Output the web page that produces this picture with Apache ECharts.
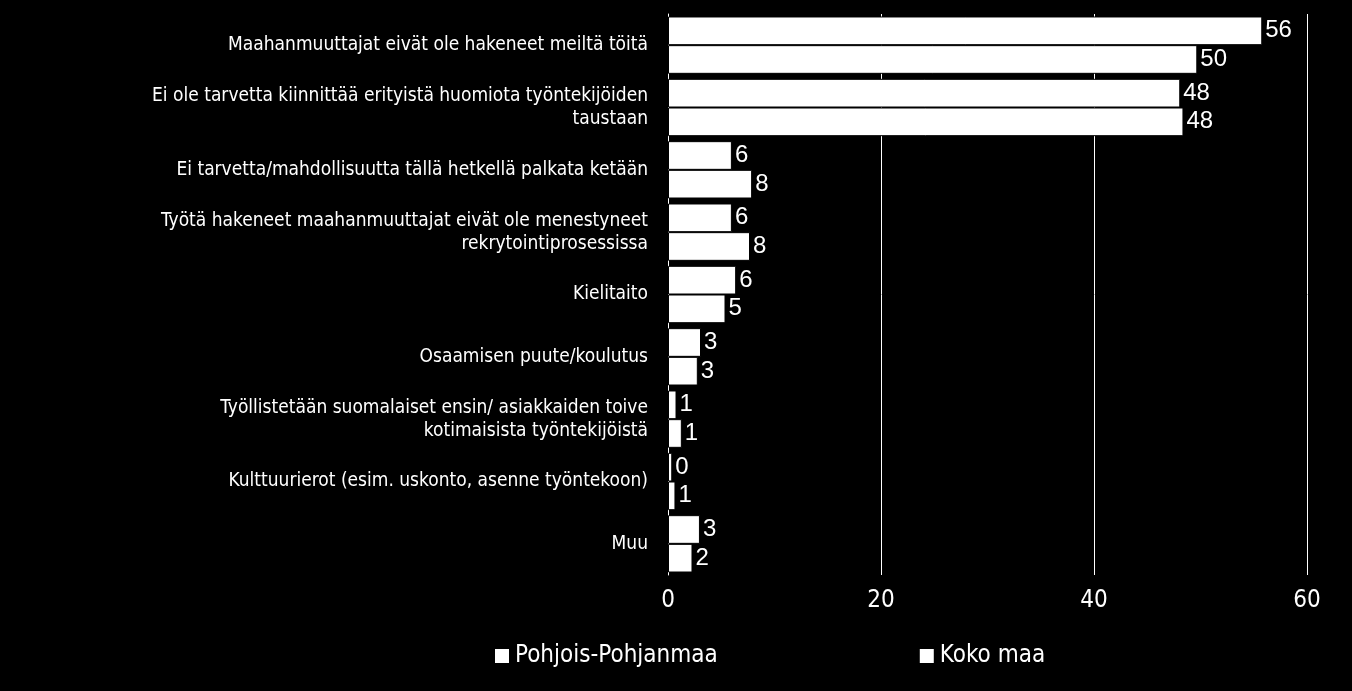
<!DOCTYPE html>
<html>
<head>
<meta charset="utf-8">
<script src="https://cdn.jsdelivr.net/npm/echarts@6/dist/echarts.min.js"></script>
<style>
  html, body { margin: 0; background: #000; }
  #chart { width: 1352px; height: 691px; }
</style>
</head>
<body>
<div id="chart"></div>
<script>
const categories = [
  "Maahanmuuttajat eivät ole hakeneet meiltä töitä",
  "Ei ole tarvetta kiinnittää erityistä huomiota työntekijöiden\ntaustaan",
  "Ei tarvetta/mahdollisuutta tällä hetkellä palkata ketään",
  "Työtä hakeneet maahanmuuttajat eivät ole menestyneet\nrekrytointiprosessissa",
  "Kielitaito",
  "Osaamisen puute/koulutus",
  "Työllistetään suomalaiset ensin/ asiakkaiden toive\nkotimaisista työntekijöistä",
  "Kulttuurierot (esim. uskonto, asenne työntekoon)",
  "Muu"
];
const pohjoisPohjanmaa = [55.8, 48.1, 6.0, 6.0, 6.4, 3.1, 0.8, 0.4, 3.0];
const kokoMaa = [49.7, 48.4, 7.9, 7.7, 5.4, 2.8, 1.3, 0.7, 2.3];
const xTicks = [0, 20, 40, 60];

const chart = echarts.init(document.getElementById("chart"));
const label = {
  show: true,
  position: "right",
  color: "#fff",
  fontSize: 24,
  distance: 3,
  fontFamily: "Liberation Sans Narrow, Liberation Sans",
  formatter: (p) => Math.round(p.value)
};
chart.setOption({
  backgroundColor: "#000",
  animation: false,
  grid: { left: 668, right: 45, top: 14, bottom: 116, containLabel: false },
  legend: {
    bottom: 18,
    left: 488,
    itemGap: 200,
    itemWidth: 16,
    itemHeight: 16,
    icon: "rect",
    textStyle: { color: "#fff", fontSize: 24, fontFamily: "DejaVu Sans Condensed" },
    data: ["Pohjois-Pohjanmaa", "Koko maa"]
  },
  xAxis: {
    type: "value",
    min: xTicks[0],
    max: xTicks[xTicks.length - 1],
    interval: 20,
    axisLabel: { color: "#fff", fontSize: 24, margin: 14, fontFamily: "DejaVu Sans Condensed" },
    splitLine: { lineStyle: { color: "#fff", width: 1 } },
    axisLine: { show: false },
    axisTick: { show: false }
  },
  yAxis: {
    type: "category",
    inverse: true,
    data: categories,
    axisLine: { lineStyle: { color: "#fff" } },
    axisTick: { show: false },
    axisLabel: { color: "#fff", fontSize: 19, lineHeight: 23, align: "right", margin: 20, fontFamily: "DejaVu Sans Condensed" }
  },
  series: [
    {
      name: "Pohjois-Pohjanmaa",
      type: "bar",
      data: pohjoisPohjanmaa,
      barGap: "0%",
      barCategoryGap: "8%",
      itemStyle: { color: "#fff", borderColor: "#000", borderWidth: 1 },
      label
    },
    {
      name: "Koko maa",
      type: "bar",
      data: kokoMaa,
      itemStyle: { color: "#fff", borderColor: "#000", borderWidth: 1 },
      label
    }
  ]
});
</script>
</body>
</html>
